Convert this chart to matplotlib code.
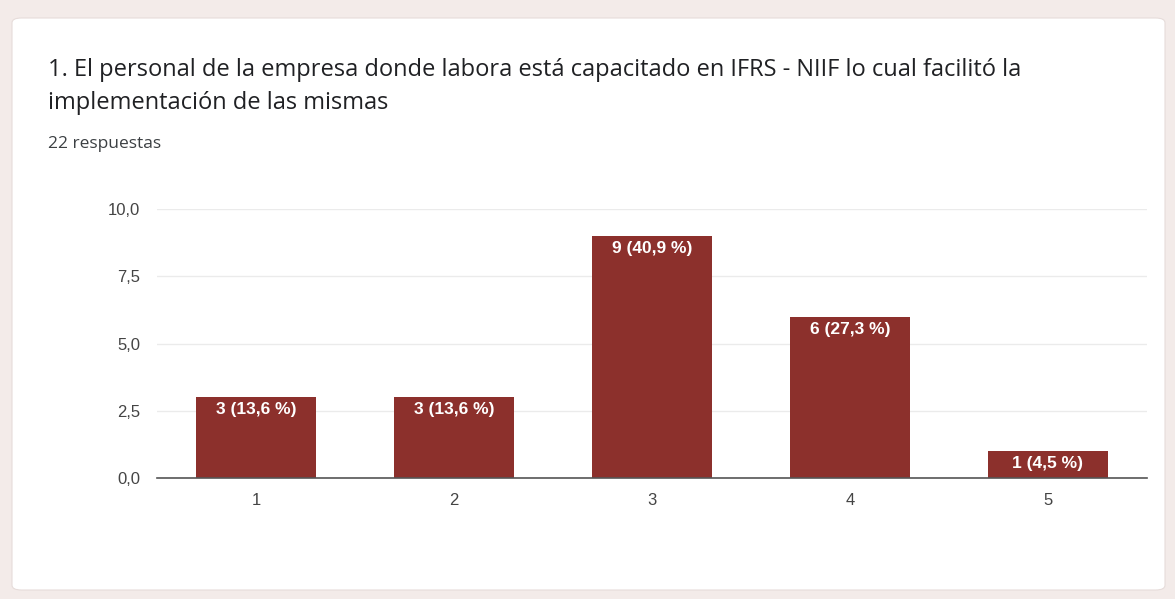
import matplotlib.pyplot as plt
from matplotlib.patches import FancyBboxPatch

# Respuestas por nivel (escala 1-5)
categories = ["1", "2", "3", "4", "5"]
counts = [3, 3, 9, 6, 1]
percents = ["13,6", "13,6", "40,9", "27,3", "4,5"]
y_ticks = [0.0, 2.5, 5.0, 7.5, 10.0]
y_tick_labels = ["0,0", "2,5", "5,0", "7,5", "10,0"]

title_lines = ["1. El personal de la empresa donde labora está capacitado en IFRS - NIIF lo cual facilitó la",
               "implementación de las mismas"]
subtitle = "22 respuestas"

W, H = 1175, 599
fig = plt.figure(figsize=(W / 100, H / 100), dpi=100)
fig.patch.set_facecolor("#f3ebe9")

# white card behind everything
card = FancyBboxPatch((12 / W, 9 / H), 1153 / W, 572 / H,
                      boxstyle="round,pad=0,rounding_size=0.008",
                      transform=fig.transFigure, facecolor="white",
                      edgecolor="#e6dcda", linewidth=0.8, zorder=-10)
fig.patches.append(card)

fig.text(48 / W, 1 - 70 / H, title_lines[0], fontsize=17, family="Open Sans",
         color="#202124", va="center")
fig.text(48 / W, 1 - 103 / H, title_lines[1], fontsize=17, family="Open Sans",
         color="#202124", va="center")
fig.text(48 / W, 1 - 144 / H, subtitle, fontsize=12.5, family="Open Sans",
         color="#3c4043", va="center")

ax = fig.add_axes([157 / W, 121 / H, 990 / W, 269 / H])
ax.set_facecolor("none")
x = range(len(categories))
bars = ax.bar(x, counts, width=0.61, color="#8c302c", zorder=3)

for b, c, p in zip(bars, counts, percents):
    ax.annotate(f"{c} ({p} %)", (b.get_x() + b.get_width() / 2, c),
                xytext=(0, -9), textcoords="offset points",
                ha="center", va="center", color="white", fontsize=12.5,
                family="Liberation Sans", fontweight="bold", zorder=4)

ax.set_xlim(-0.5, len(categories) - 0.5)
ax.set_ylim(0, 10)
ax.set_yticks(y_ticks)
ax.set_yticklabels(y_tick_labels)
ax.set_xticks(list(x))
ax.set_xticklabels(categories)
ax.grid(axis="y", color="#ebebeb", linewidth=1, zorder=0)
for s in ["top", "right", "left"]:
    ax.spines[s].set_visible(False)
ax.spines["bottom"].set_color("#555555")
ax.spines["bottom"].set_linewidth(1.2)
ax.spines["bottom"].set_zorder(5)
ax.tick_params(length=0, labelsize=12, labelcolor="#444444", pad=11)
ax.tick_params(axis="y", pad=12)
for lbl in ax.get_xticklabels() + ax.get_yticklabels():
    lbl.set_family("Liberation Sans")

fig.savefig("out.png", dpi=100, facecolor=fig.get_facecolor())
